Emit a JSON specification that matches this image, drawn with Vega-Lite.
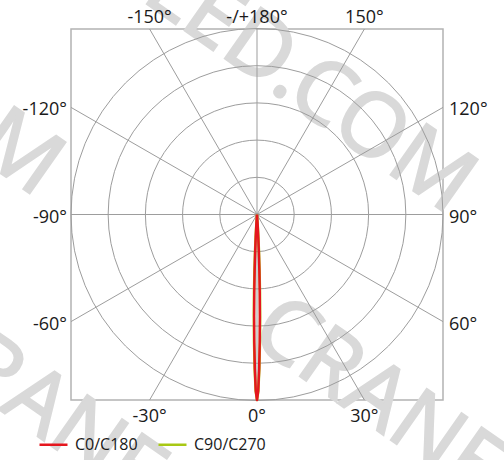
{
  "$schema": "https://vega.github.io/schema/vega-lite/v6.json",
  "width": 372,
  "height": 371,
  "autosize": {"type": "none"},
  "padding": {"left": 71, "top": 29, "right": 61, "bottom": 60},
  "background": "white",
  "config": {
    "view": {"stroke": "#b3b3b3", "strokeWidth": 1.5},
    "font": "Open Sans"
  },
  "datasets": {
    "rings": [{"r": 0.2}, {"r": 0.4}, {"r": 0.6}, {"r": 0.8}, {"r": 1.0}],
    "spokes": [
      {"x1": 0, "y1": -1, "x2": 0, "y2": 1},
      {"x1": -1, "y1": 0, "x2": 1, "y2": 0},
      {"x1": -0.5774, "y1": -1, "x2": 0.5774, "y2": 1},
      {"x1": 0.5774, "y1": -1, "x2": -0.5774, "y2": 1},
      {"x1": -1, "y1": -0.5774, "x2": 1, "y2": 0.5774},
      {"x1": 1, "y1": -0.5774, "x2": -1, "y2": 0.5774}
    ],
    "labels": [
      {"t": "-150°", "x": -0.5774, "y": 1, "s": "top"},
      {"t": "-/+180°", "x": 0, "y": 1, "s": "top"},
      {"t": "150°", "x": 0.5774, "y": 1, "s": "top"},
      {"t": "-30°", "x": -0.5774, "y": -1, "s": "bottom"},
      {"t": "0°", "x": 0, "y": -1, "s": "bottom"},
      {"t": "30°", "x": 0.5774, "y": -1, "s": "bottom"},
      {"t": "-120°", "x": -1, "y": 0.5774, "s": "left"},
      {"t": "-90°", "x": -1, "y": 0, "s": "left"},
      {"t": "-60°", "x": -1, "y": -0.5774, "s": "left"},
      {"t": "120°", "x": 1, "y": 0.5774, "s": "right"},
      {"t": "90°", "x": 1, "y": 0, "s": "right"},
      {"t": "60°", "x": 1, "y": -0.5774, "s": "right"}
    ],
    "watermark": [
      {"t": "LED.COM", "x": -0.6301, "y": 1.1601, "a": "left"},
      {"t": "LED.COM", "x": -1.1844, "y": 0.0857, "a": "right"},
      {"t": "CRANE", "x": -0.0527, "y": -0.6749, "a": "left"},
      {"t": "CRANE", "x": -1.8774, "y": -0.7073, "a": "left"}
    ],
    "lobes": [
      {"c": "C90/C270", "i": 0, "x": 0, "y": 0},
      {"c": "C90/C270", "i": 1, "x": -0.001, "y": -0.01},
      {"c": "C90/C270", "i": 2, "x": -0.0036, "y": -0.05},
      {"c": "C90/C270", "i": 3, "x": -0.0074, "y": -0.12},
      {"c": "C90/C270", "i": 4, "x": -0.0108, "y": -0.2},
      {"c": "C90/C270", "i": 5, "x": -0.0139, "y": -0.3},
      {"c": "C90/C270", "i": 6, "x": -0.0162, "y": -0.42},
      {"c": "C90/C270", "i": 7, "x": -0.0169, "y": -0.55},
      {"c": "C90/C270", "i": 8, "x": -0.016, "y": -0.69},
      {"c": "C90/C270", "i": 9, "x": -0.0128, "y": -0.83},
      {"c": "C90/C270", "i": 10, "x": -0.0073, "y": -0.95},
      {"c": "C90/C270", "i": 11, "x": 0, "y": -1},
      {"c": "C90/C270", "i": 12, "x": 0.0073, "y": -0.95},
      {"c": "C90/C270", "i": 13, "x": 0.0128, "y": -0.83},
      {"c": "C90/C270", "i": 14, "x": 0.016, "y": -0.69},
      {"c": "C90/C270", "i": 15, "x": 0.0169, "y": -0.55},
      {"c": "C90/C270", "i": 16, "x": 0.0162, "y": -0.42},
      {"c": "C90/C270", "i": 17, "x": 0.0139, "y": -0.3},
      {"c": "C90/C270", "i": 18, "x": 0.0108, "y": -0.2},
      {"c": "C90/C270", "i": 19, "x": 0.0074, "y": -0.12},
      {"c": "C90/C270", "i": 20, "x": 0.0036, "y": -0.05},
      {"c": "C90/C270", "i": 21, "x": 0.001, "y": -0.01},
      {"c": "C90/C270", "i": 22, "x": 0, "y": 0},
      {"c": "C0/C180", "i": 0, "x": 0, "y": 0},
      {"c": "C0/C180", "i": 1, "x": -0.0009, "y": -0.01},
      {"c": "C0/C180", "i": 2, "x": -0.0033, "y": -0.05},
      {"c": "C0/C180", "i": 3, "x": -0.0067, "y": -0.12},
      {"c": "C0/C180", "i": 4, "x": -0.0098, "y": -0.2},
      {"c": "C0/C180", "i": 5, "x": -0.0126, "y": -0.3},
      {"c": "C0/C180", "i": 6, "x": -0.0147, "y": -0.42},
      {"c": "C0/C180", "i": 7, "x": -0.0154, "y": -0.55},
      {"c": "C0/C180", "i": 8, "x": -0.0145, "y": -0.69},
      {"c": "C0/C180", "i": 9, "x": -0.0116, "y": -0.83},
      {"c": "C0/C180", "i": 10, "x": -0.0066, "y": -0.95},
      {"c": "C0/C180", "i": 11, "x": 0, "y": -1},
      {"c": "C0/C180", "i": 12, "x": 0.0066, "y": -0.95},
      {"c": "C0/C180", "i": 13, "x": 0.0116, "y": -0.83},
      {"c": "C0/C180", "i": 14, "x": 0.0145, "y": -0.69},
      {"c": "C0/C180", "i": 15, "x": 0.0154, "y": -0.55},
      {"c": "C0/C180", "i": 16, "x": 0.0147, "y": -0.42},
      {"c": "C0/C180", "i": 17, "x": 0.0126, "y": -0.3},
      {"c": "C0/C180", "i": 18, "x": 0.0098, "y": -0.2},
      {"c": "C0/C180", "i": 19, "x": 0.0067, "y": -0.12},
      {"c": "C0/C180", "i": 20, "x": 0.0033, "y": -0.05},
      {"c": "C0/C180", "i": 21, "x": 0.0009, "y": -0.01},
      {"c": "C0/C180", "i": 22, "x": 0, "y": 0}
    ]
  },
  "layer": [
    {
      "data": {"name": "watermark"},
      "transform": [{"filter": "datum.a === 'left'"}],
      "mark": {"type": "text", "font": "Noto Sans", "fontSize": 88, "fill": "#d9d9d9", "stroke": "#d9d9d9", "strokeWidth": 1.8, "angle": 35, "align": "left", "baseline": "alphabetic"},
      "encoding": {
        "x": {"field": "x", "type": "quantitative", "scale": {"domain": [-1, 1], "nice": false, "zero": false}, "axis": null},
        "y": {"field": "y", "type": "quantitative", "scale": {"domain": [-1, 1], "nice": false, "zero": false}, "axis": null},
        "text": {"field": "t"}
      }
    },
    {
      "data": {"name": "watermark"},
      "transform": [{"filter": "datum.a === 'right'"}],
      "mark": {"type": "text", "font": "Noto Sans", "fontSize": 88, "fill": "#d9d9d9", "stroke": "#d9d9d9", "strokeWidth": 1.8, "angle": 35, "align": "right", "baseline": "alphabetic"},
      "encoding": {
        "x": {"field": "x", "type": "quantitative", "axis": null},
        "y": {"field": "y", "type": "quantitative", "axis": null},
        "text": {"field": "t"}
      }
    },
    {
      "data": {"name": "rings"},
      "mark": {"type": "arc", "fill": "white", "fillOpacity": 0, "stroke": "#9d9d9d", "strokeWidth": 1, "theta": 0, "theta2": 6.2832},
      "encoding": {
        "radius": {"field": "r", "type": "quantitative", "stack": null, "scale": {"type": "linear", "domain": [0, 1], "range": [0, 186], "zero": true}, "legend": null}
      }
    },
    {
      "data": {"name": "spokes"},
      "mark": {"type": "rule", "stroke": "#9d9d9d", "strokeWidth": 1},
      "encoding": {
        "x": {"field": "x1", "type": "quantitative", "axis": null},
        "y": {"field": "y1", "type": "quantitative", "axis": null},
        "x2": {"field": "x2"},
        "y2": {"field": "y2"}
      }
    },
    {
      "data": {"name": "lobes"},
      "transform": [{"filter": "datum.c === 'C90/C270'"}],
      "mark": {"type": "line", "strokeWidth": 2.5, "strokeJoin": "round"},
      "encoding": {
        "x": {"field": "x", "type": "quantitative", "axis": null},
        "y": {"field": "y", "type": "quantitative", "axis": null},
        "order": {"field": "i", "type": "quantitative"},
        "color": {
          "field": "c", "type": "nominal",
          "scale": {"domain": ["C0/C180", "C90/C270"], "range": ["#e5161e", "#a8c814"]},
          "legend": {"title": null, "orient": "none", "legendX": -33, "legendY": 400, "direction": "horizontal", "symbolType": "stroke", "symbolSize": 784, "symbolStrokeWidth": 2.5, "labelFontSize": 16, "labelColor": "#1a1a1a", "labelFont": "Open Sans", "labelOffset": 6, "columnPadding": 15, "padding": 0}
        }
      }
    },
    {
      "data": {"name": "lobes"},
      "transform": [{"filter": "datum.c === 'C0/C180'"}],
      "mark": {"type": "line", "strokeWidth": 2.5, "strokeJoin": "round"},
      "encoding": {
        "x": {"field": "x", "type": "quantitative", "axis": null},
        "y": {"field": "y", "type": "quantitative", "axis": null},
        "order": {"field": "i", "type": "quantitative"},
        "color": {"field": "c", "type": "nominal"}
      }
    },
    {
      "data": {"name": "labels"},
      "transform": [{"filter": "datum.s === 'top'"}],
      "mark": {"type": "text", "fontSize": 18, "color": "#1a1a1a", "align": "center", "baseline": "alphabetic", "dy": -6.5},
      "encoding": {
        "x": {"field": "x", "type": "quantitative", "axis": null},
        "y": {"field": "y", "type": "quantitative", "axis": null},
        "text": {"field": "t"}
      }
    },
    {
      "data": {"name": "labels"},
      "transform": [{"filter": "datum.s === 'bottom'"}],
      "mark": {"type": "text", "fontSize": 18, "color": "#1a1a1a", "align": "center", "baseline": "alphabetic", "dy": 22},
      "encoding": {
        "x": {"field": "x", "type": "quantitative", "axis": null},
        "y": {"field": "y", "type": "quantitative", "axis": null},
        "text": {"field": "t"}
      }
    },
    {
      "data": {"name": "labels"},
      "transform": [{"filter": "datum.s === 'left'"}],
      "mark": {"type": "text", "fontSize": 18, "color": "#1a1a1a", "align": "right", "baseline": "alphabetic", "dx": -4, "dy": 8},
      "encoding": {
        "x": {"field": "x", "type": "quantitative", "axis": null},
        "y": {"field": "y", "type": "quantitative", "axis": null},
        "text": {"field": "t"}
      }
    },
    {
      "data": {"name": "labels"},
      "transform": [{"filter": "datum.s === 'right'"}],
      "mark": {"type": "text", "fontSize": 18, "color": "#1a1a1a", "align": "left", "baseline": "alphabetic", "dx": 6, "dy": 8},
      "encoding": {
        "x": {"field": "x", "type": "quantitative", "axis": null},
        "y": {"field": "y", "type": "quantitative", "axis": null},
        "text": {"field": "t"}
      }
    }
  ]
}
